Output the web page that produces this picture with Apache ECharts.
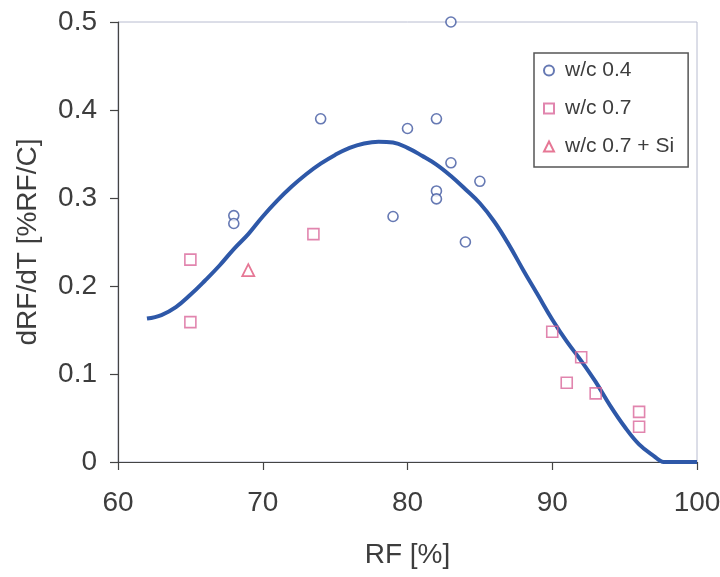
<!DOCTYPE html>
<html><head><meta charset="utf-8">
<script src="https://cdn.jsdelivr.net/npm/echarts@6/dist/echarts.min.js"></script>
<style>html,body{margin:0;padding:0;background:#fff}#c{width:720px;height:577px}</style>
</head><body><div id="c"></div>
<script>
// w/c 0.4 (circles)
const wc04 = [[68,0.28],[68,0.271],[74,0.39],[79,0.279],[80,0.379],[82,0.39],[82,0.308],[82,0.299],[83,0.34],[83,0.5],[84,0.25],[85,0.319]];
// w/c 0.7 (squares)
const wc07 = [[65,0.23],[65,0.159],[73.5,0.259],[90,0.148],[91,0.09],[92,0.119],[93,0.078],[96,0.057],[96,0.04]];
// w/c 0.7 + Si (triangle)
const wc07si = [[69,0.218]];
// fitted curve
const curveX = [62,63,64,65,66,67,68,69,70,71,72,73,74,75,76,77,78,79,80,81,82,83,84,85,86,87,88,89,90,91,92,93,94,95,96,97,97.7,98,99,100];
const curveY = [0.163,0.167,0.176,0.19,0.206,0.223,0.242,0.259,0.279,0.297,0.313,0.327,0.339,0.349,0.357,0.362,0.364,0.363,0.357,0.348,0.338,0.325,0.31,0.294,0.273,0.247,0.218,0.19,0.162,0.137,0.115,0.091,0.064,0.04,0.02,0.007,0,0,0,0];
const xTicks = [60,70,80,90,100];
const yTicks = [0,0.1,0.2,0.3,0.4,0.5];

const curve = curveX.map((x,i)=>[x,curveY[i]]);
const font = 'Arial, "Liberation Sans", sans-serif';
const txt = '#3d3d3d';
const chart = echarts.init(document.getElementById('c'));
chart.setOption({
  animation:false,
  grid:{left:118,right:23,top:22,bottom:115,show:true,borderColor:'#b8bcd0',borderWidth:1,
    containLabel:false,outerBoundsMode:'none'},
  legend:{
    data:['w/c 0.4','w/c 0.7','w/c 0.7 + Si'],
    orient:'vertical', left:534, top:53,
    borderColor:'#555', borderWidth:1.5, padding:[7,14,10,9],
    itemGap:17, itemWidth:10, itemHeight:10,
    textStyle:{fontFamily:font,fontSize:21,color:txt,padding:[0,0,0,6]},
    backgroundColor:'#fff'
  },
  xAxis:{type:'value',min:60,max:100,interval:10,
    axisLine:{lineStyle:{color:'#444',width:1.2}},
    axisTick:{length:8,lineStyle:{color:'#444',width:1.2}},
    splitLine:{show:false},
    axisLabel:{margin:27,fontFamily:font,fontSize:28,color:txt},
    name:'RF [%]',nameLocation:'middle',nameGap:79,
    nameTextStyle:{fontFamily:font,fontSize:28,color:txt}
  },
  yAxis:{type:'value',min:0,max:0.5,interval:0.1,
    axisLine:{show:true,lineStyle:{color:'#444',width:1.2}},
    axisTick:{show:true,length:8,lineStyle:{color:'#444',width:1.2}},
    splitLine:{show:false},
    axisLabel:{margin:21,fontFamily:font,fontSize:28,color:txt,formatter:v=>String(Math.round(v*10)/10)},
    name:'dRF/dT [%RF/C]',nameLocation:'middle',nameGap:76,
    nameTextStyle:{fontFamily:font,fontSize:28,color:txt}
  },
  series:[
    {name:'fit',type:'line',data:curve,smooth:0.4,symbol:'none',
      lineStyle:{color:'#2e58a8',width:4},z:3},
    {name:'w/c 0.4',type:'scatter',data:wc04,symbol:'circle',symbolSize:10,
      itemStyle:{color:'#fff',borderColor:'#4057a0',borderWidth:1.6},z:4},
    {name:'w/c 0.7',type:'scatter',data:wc07,symbol:'rect',symbolSize:11,
      itemStyle:{color:'rgba(255,255,255,0)',borderColor:'#d9669a',borderWidth:1.6},z:4},
    {name:'w/c 0.7 + Si',type:'scatter',data:wc07si,symbol:'triangle',symbolSize:12,
      itemStyle:{color:'#fff',borderColor:'#e0557a',borderWidth:1.8},z:4}
  ]
});
</script></body></html>
